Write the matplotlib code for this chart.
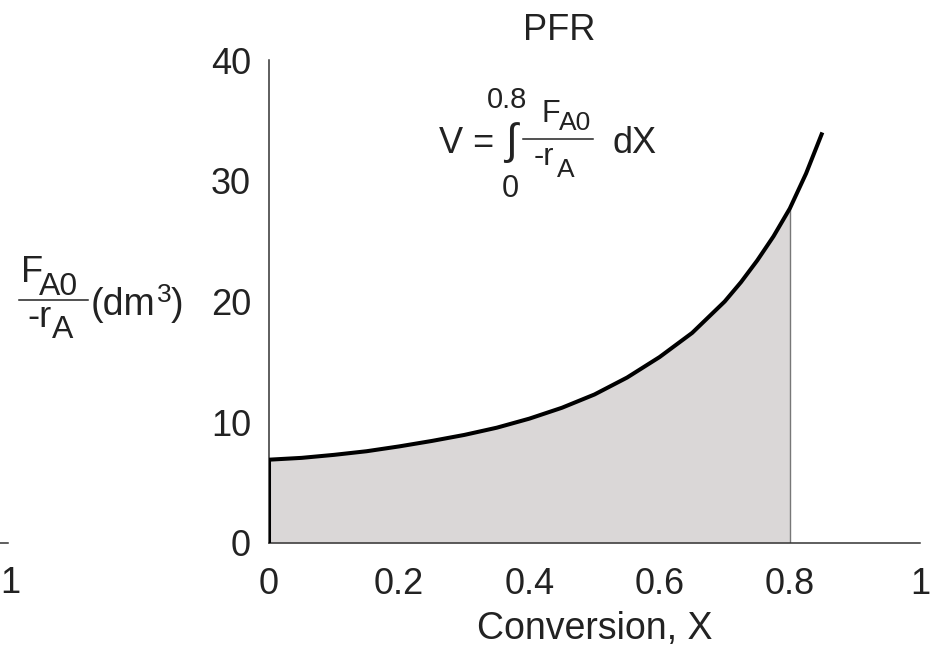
import matplotlib
matplotlib.use("Agg")
import matplotlib.pyplot as plt
from matplotlib.lines import Line2D

plt.rcParams['font.family'] = ['Liberation Sans', 'DejaVu Sans']

# Data
conversion = [0, 0.05, 0.1, 0.15, 0.2, 0.25, 0.3, 0.35, 0.4, 0.45, 0.5,
              0.55, 0.6, 0.65, 0.7, 0.725, 0.75, 0.775, 0.8, 0.825, 0.85]
fa0_over_ra = [6.9, 7.05, 7.3, 7.6, 8.0, 8.45, 8.95, 9.55, 10.3, 11.2, 12.3,
               13.7, 15.4, 17.4, 20.0, 21.6, 23.4, 25.4, 27.7, 30.6, 34.0]
x_upper = 0.8
x_ticks = [0, 0.2, 0.4, 0.6, 0.8, 1]
x_ticklabels = ['0', '0.2', '0.4', '0.6', '0.8', '1']
y_ticks = [0, 10, 20, 30, 40]
y_ticklabels = ['0', '10', '20', '30', '40']

W, H = 933, 651
fig = plt.figure(figsize=(W / 100, H / 100), dpi=100)

def fx(x):
    return x / W

def fy(y):
    return 1 - y / H

TXT = '#222222'
AX = '#333333'

ax = fig.add_axes([fx(269), fy(543), (920 - 269) / W, (543 - 60) / H])
ax.set_xlim(0, 1)
ax.set_ylim(0, 40)

n_fill = sum(1 for x in conversion if x <= x_upper)
ax.fill_between(conversion[:n_fill], 0, fa0_over_ra[:n_fill],
                color='#dad7d7', lw=0, zorder=1)
ax.vlines(x_upper, 0, fa0_over_ra[n_fill - 1], color='#777777', lw=1.0, zorder=2)
ax.plot(conversion, fa0_over_ra, color='black', lw=2.9, zorder=3,
        solid_capstyle='butt', solid_joinstyle='round')
ax.vlines(0, 0, fa0_over_ra[0], color='black', lw=2.9, zorder=3)

for s in ['top', 'right']:
    ax.spines[s].set_visible(False)
for s in ['left', 'bottom']:
    ax.spines[s].set_color(AX)
    ax.spines[s].set_linewidth(1.1)

ax.set_xticks(x_ticks)
ax.set_xticklabels(x_ticklabels)
ax.set_yticks(y_ticks)
ax.set_yticklabels(y_ticklabels)
ax.tick_params(axis='both', length=0, labelsize=26, colors=TXT)
ax.tick_params(axis='y', pad=13)
ax.tick_params(axis='x', pad=17)
ax.set_xlabel('Conversion, X', fontsize=27, color=TXT, labelpad=7)

# Title
fig.text(fx(559), fy(40), 'PFR', fontsize=26, color=TXT, ha='center', va='baseline')

# Formula V = int_0^0.8 FA0/-rA dX
fig.text(fx(439), fy(153), 'V =', fontsize=26, color=TXT, ha='left', va='baseline')
fig.text(fx(511), fy(143), '\u222b', fontsize=31, color=TXT, ha='center', va='center')
fig.text(fx(487), fy(108), '0.8', fontsize=21, color=TXT, ha='left', va='baseline')
fig.text(fx(510), fy(197), '0', fontsize=22, color=TXT, ha='center', va='baseline')
fig.text(fx(541), fy(122), 'F', fontsize=22, color=TXT, ha='left', va='baseline')
fig.text(fx(559), fy(130), 'A0', fontsize=19, color=TXT, ha='left', va='baseline')
fig.add_artist(Line2D([fx(523), fx(593)], [fy(139), fy(139)], color=TXT, lw=1.1))
fig.text(fx(534), fy(165), '-r', fontsize=22, color=TXT, ha='left', va='baseline')
fig.text(fx(557), fy(177), 'A', fontsize=19, color=TXT, ha='left', va='baseline')
fig.text(fx(612), fy(153), 'dX', fontsize=26, color=TXT, ha='left', va='baseline')

# Y label: FA0/-rA (dm3)
fig.text(fx(21), fy(282), 'F', fontsize=26, color=TXT, ha='left', va='baseline')
fig.text(fx(39), fy(295), 'A0', fontsize=23, color=TXT, ha='left', va='baseline')
fig.add_artist(Line2D([fx(19), fx(88)], [fy(300), fy(300)], color=TXT, lw=1.1))
fig.text(fx(27), fy(327), '-r', fontsize=26, color=TXT, ha='left', va='baseline')
fig.text(fx(52), fy(338), 'A', fontsize=23, color=TXT, ha='left', va='baseline')
fig.text(fx(91), fy(315), '(dm', fontsize=27, color=TXT, ha='left', va='baseline')
fig.text(fx(157), fy(302), '3', fontsize=19, color=TXT, ha='left', va='baseline')
fig.text(fx(171), fy(315), ')', fontsize=27, color=TXT, ha='left', va='baseline')

# Remnant of neighbouring panel at the left edge
fig.add_artist(Line2D([fx(0), fx(8)], [fy(543), fy(543)], color=AX, lw=1.1))
fig.text(fx(10), fy(593), '1', fontsize=26, color=TXT, ha='center', va='baseline')

fig.savefig('out.png', dpi=100)
